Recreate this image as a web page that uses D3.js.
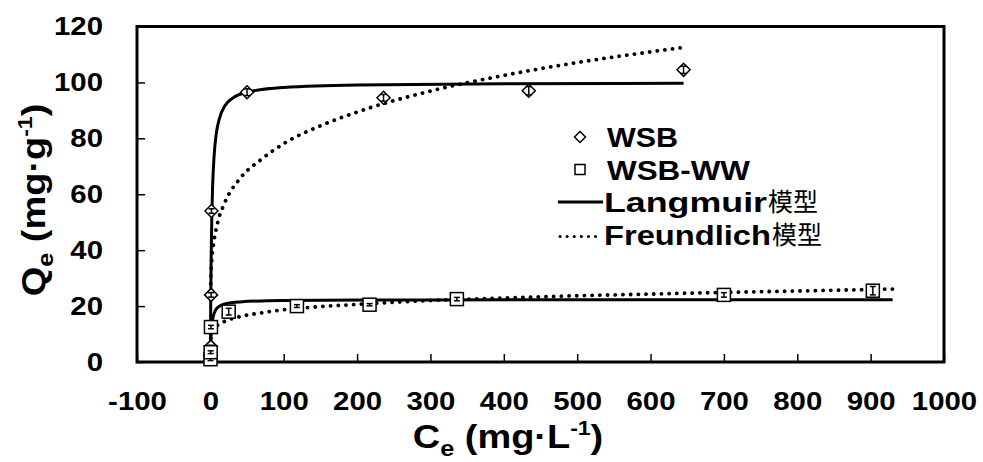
<!DOCTYPE html>
<html>
<head>
<meta charset="utf-8">
<title>Langmuir / Freundlich</title>
<script src="https://cdn.jsdelivr.net/npm/d3@7/dist/d3.min.js"></script>
<style>
  *{margin:0;padding:0;}
  body{background:#fff;}
  svg text{font-family:"Liberation Sans",Arial,sans-serif;font-weight:bold;fill:#000;}
  .cjk{font-family:"Noto Sans CJK SC",sans-serif;font-weight:normal;}
</style>
</head>
<body>
<div id="chart"></div>
<script>
// measured points [Ce, Qe, err]
var wsb = [[0.3,2.5,0.5],[0.6,5.5,0.5],[1.0,24,0.8],[1.5,54,0.8],[50,96.5,1.2],[236,94.5,1.2],[434,97,1.5],[645,104.5,1.3]];
var wsbww = [[0.2,1,0.5],[0.4,3.5,0.5],[0.8,12.5,0.6],[25,18,1.2],[118,20,0.5],[217,20.5,0.4],[336,22.5,0.6],[700,24,0.8],[903,25.5,1.5]];

// fitted curves
var langWsb = [[0,0],[0.2,9.9],[0.5,21.6],[1,35.5],[2,52.4],[3,62.3],[5,73.3],[8,81.5],[12,86.8],[20,91.7],[30,94.3],[50,96.5],[100,98.2],[200,99.1],[400,99.5],[645,99.7]];
var langWw = [[0,0],[0.3,3.9],[1,9.2],[2,13],[4,16.4],[7,18.5],[12,19.9],[20,20.8],[40,21.5],[100,22],[300,22.2],[930,22.3]];
var freWsb = [[0.5,28],[1,32],[2,36.6],[5,43.3],[10,49.9],[20,57.2],[40,65.5],[70,72.6],[100,78.1],[150,84.5],[200,89.4],[300,96.9],[400,102.5],[500,107.1],[645,112.5]];
var freWw = [[0.5,8.4],[1,9.35],[2,10.4],[5,11.9],[10,13.2],[20,14.6],[40,16.2],[70,17.6],[100,18.7],[150,19.8],[200,20.6],[300,22],[400,22.9],[500,23.7],[600,24.3],[700,24.9],[800,25.4],[930,26.1]];

var xTicks = d3.range(-100, 1001, 100);
var yTicks = d3.range(0, 121, 20);
var legendItems = ["WSB", "WSB-WW", "Langmuir", "Freundlich"];

var W = 983, H = 462;
var SX = 1.13; // the source figure is a bit stretched sideways
var svg = d3.select("#chart").append("svg").attr("width", W).attr("height", H);

var x = d3.scaleLinear().domain([-100, 1000]).range([137, 944]);
var y = d3.scaleLinear().domain([0, 120]).range([362, 26.5]);

// axes (ticks inward)
var xAxis = svg.append("g").attr("transform", "translate(0," + y(0) + ")")
   .call(d3.axisBottom(x).tickValues(xTicks).tickFormat(function(d){return String(d);})
         .tickSizeInner(-8).tickSizeOuter(0).tickPadding(30));
var yAxis = svg.append("g").attr("transform", "translate(" + x(-100) + ",0)")
   .call(d3.axisLeft(y).tickValues(yTicks).tickFormat(function(d){return String(d);})
         .tickSizeInner(-8).tickSizeOuter(0).tickPadding(34));
[xAxis, yAxis].forEach(function(g){
   g.select(".domain").remove();
   g.selectAll(".tick line").attr("stroke", "#000").attr("stroke-width", 1.5);
   g.selectAll(".tick text").style("font-size", "26px").attr("fill", "#000")
    .attr("transform", "scale(" + SX + ",1)");
});
yAxis.selectAll(".tick text").attr("x", -34 / SX);

// frame
svg.append("rect").attr("x", x(-100)).attr("y", y(120))
   .attr("width", x(1000) - x(-100)).attr("height", y(0) - y(120))
   .attr("fill", "none").attr("stroke", "#000").attr("stroke-width", 3);

var line = d3.line().x(function(d){return x(d[0]);}).y(function(d){return y(d[1]);}).curve(d3.curveMonotoneX);

function solid(data){
   svg.append("path").datum(data).attr("d", line).attr("fill", "none")
      .attr("stroke", "#000").attr("stroke-width", 3);
}
function dotted(data){
   svg.append("path").datum(data).attr("d", line).attr("fill", "none")
      .attr("stroke", "#000").attr("stroke-width", 3.8)
      .attr("stroke-linecap", "round").attr("stroke-dasharray", "0.1 7.6");
}
dotted(freWsb);
dotted(freWw);
solid(langWsb);
solid(langWw);

var diamondPath = function(s){ return "M0," + (-s) + "L" + s + ",0L0," + s + "L" + (-s) + ",0Z"; };

function points(data, shape){
   var g = svg.append("g");
   data.forEach(function(d){
      var cx = x(d[0]), cy = y(d[1]);
      var p = g.append("g").attr("transform", "translate(" + cx + "," + cy + ")");
      if(shape == "d"){
         p.append("path").attr("d", diamondPath(6.5)).attr("fill", "#fff").attr("stroke", "#000").attr("stroke-width", 1.5);
      } else {
         p.append("rect").attr("x", -6.5).attr("y", -6.5).attr("width", 13).attr("height", 13)
          .attr("fill", "#fff").attr("stroke", "#000").attr("stroke-width", 1.5);
      }
      var e = y(d[1] - d[2]) - cy;
      p.append("line").attr("x1", 0).attr("x2", 0).attr("y1", -e).attr("y2", e).attr("stroke", "#000").attr("stroke-width", 1.5);
      p.append("line").attr("x1", -3).attr("x2", 3).attr("y1", -e).attr("y2", -e).attr("stroke", "#000").attr("stroke-width", 1.5);
      p.append("line").attr("x1", -3).attr("x2", 3).attr("y1", e).attr("y2", e).attr("stroke", "#000").attr("stroke-width", 1.5);
   });
}
points(wsb, "d");
points(wsbww, "s");

// legend
var legendWidths = [71, 143, 163, 167];
var lg = svg.append("g").attr("transform", "translate(558,137)");
legendItems.forEach(function(name, i){
   var row = lg.append("g").attr("transform", "translate(0," + (i * 32.5) + ")");
   if(i == 0){
      row.append("path").attr("d", diamondPath(5.5)).attr("transform", "translate(22,0)")
         .attr("fill", "#fff").attr("stroke", "#000").attr("stroke-width", 1.5);
   } else if(i == 1){
      row.append("rect").attr("x", 17).attr("y", -5).attr("width", 10).attr("height", 10)
         .attr("fill", "#fff").attr("stroke", "#000").attr("stroke-width", 1.5);
   } else if(i == 2){
      row.append("line").attr("x1", 0).attr("x2", 45).attr("stroke", "#000").attr("stroke-width", 3);
   } else {
      row.append("line").attr("x1", 2).attr("x2", 44).attr("y1", 2).attr("y2", 2).attr("stroke", "#000").attr("stroke-width", 3)
         .attr("stroke-linecap", "round").attr("stroke-dasharray", "0.1 7");
   }
   var tx = i < 2 ? 49 : 46;
   row.append("text").attr("x", tx).attr("dy", "0.36em").style("font-size", "28px")
      .attr("textLength", legendWidths[i]).attr("lengthAdjust", "spacingAndGlyphs").text(name);
   if(i >= 2){
      row.append("text").attr("class", "cjk").attr("x", tx + legendWidths[i] + 1).attr("dy", "0.36em")
         .style("font-size", "25px").text("模型");
   }
});

// axis titles
var xt = svg.append("text").attr("transform", "translate(508,448) scale(1.15,1)").attr("text-anchor", "middle").style("font-size", "33px");
xt.append("tspan").text("C");
xt.append("tspan").attr("dy", 8).style("font-size", "22px").text("e");
xt.append("tspan").attr("dy", -8).text(" (mg·L");
xt.append("tspan").attr("dy", -13).style("font-size", "20px").text("-1");
xt.append("tspan").attr("dy", 13).text(")");

var yt = svg.append("text").attr("transform", "translate(45,200) rotate(-90) scale(1.15,1)").attr("text-anchor", "middle").style("font-size", "33px");
yt.append("tspan").text("Q");
yt.append("tspan").attr("dy", 8).style("font-size", "22px").text("e");
yt.append("tspan").attr("dy", -8).text(" (mg·g");
yt.append("tspan").attr("dy", -13).style("font-size", "20px").text("-1");
yt.append("tspan").attr("dy", 13).text(")");
</script>
</body>
</html>
